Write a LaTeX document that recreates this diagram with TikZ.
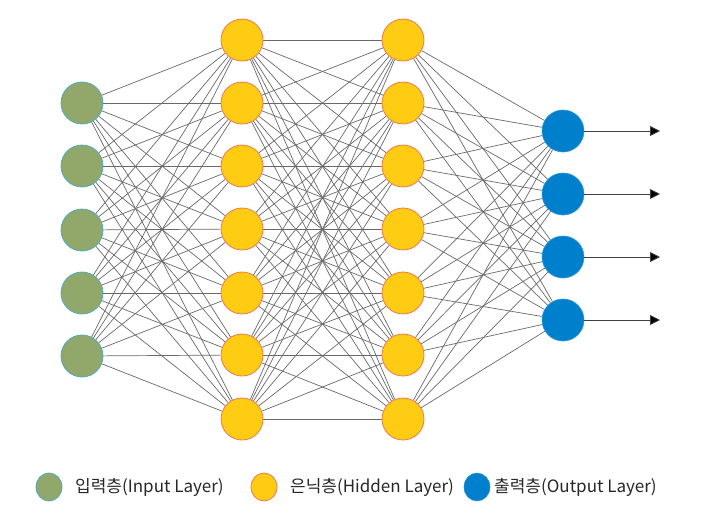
\documentclass[tikz,border=0pt]{standalone}
\usepackage{fontspec}
\setmainfont{Noto Sans CJK KR}
\usetikzlibrary{backgrounds,arrows.meta,shapes.geometric}
\definecolor{ingreen}{RGB}{146,168,106}
\definecolor{inborder}{RGB}{80,170,190}
\definecolor{hidyellow}{RGB}{255,204,20}
\definecolor{hidborder}{RGB}{240,120,80}
\definecolor{outblue}{RGB}{0,128,204}
\definecolor{outborder}{RGB}{40,150,215}
\definecolor{edgegray}{RGB}{105,105,105}
\tikzset{
  innode/.style={circle,minimum size=42pt,inner sep=0pt,fill=ingreen,draw=inborder,line width=0.8pt},
  hidnode/.style={circle,minimum size=42pt,inner sep=0pt,fill=hidyellow,draw=hidborder,line width=0.8pt},
  outnode/.style={circle,minimum size=42pt,inner sep=0pt,fill=outblue,draw=outborder,line width=0.6pt},
  edge/.style={draw=edgegray,line width=0.7pt},
  outarrow/.style={draw=black!75,line width=0.8pt,-{Triangle[length=10pt,width=10pt,fill=black]}},
  legin/.style={ellipse,minimum width=26pt,minimum height=28pt,inner sep=0pt,fill=ingreen,draw=inborder,line width=0.8pt},
  leghid/.style={ellipse,minimum width=26pt,minimum height=28pt,inner sep=0pt,fill=hidyellow,draw=hidborder,line width=0.8pt},
  legout/.style={ellipse,minimum width=26pt,minimum height=28pt,inner sep=0pt,fill=outblue,draw=outborder,line width=0.6pt},
  legtext/.style={anchor=west,inner sep=0pt,font=\fontsize{17}{19}\selectfont,text=black!85}
}
\begin{document}
\begin{tikzpicture}[x=1pt,y=-1pt]
\useasboundingbox (0,0) rectangle (702,523);
% input layer
\foreach \i/\y in {1/103,2/166,3/230,4/293,5/356}
  \node[innode] (i\i) at (82,\y) {};
% hidden layers
\foreach \i/\y in {1/40,2/103,3/166,4/229,5/293,6/355,7/419}{
  \node[hidnode] (a\i) at (242,\y) {};
  \node[hidnode] (b\i) at (403,\y) {};
}
% output layer
\foreach \i/\y in {1/131,2/194,3/257,4/320}{
  \node[outnode] (o\i) at (563,\y) {};
  \coordinate (t\i) at (660,\y);
}
\begin{pgfonlayer}{background}
\foreach \i in {1,...,5}
  \foreach \j in {1,...,7}
    \draw[edge] (i\i) -- (a\j);
\foreach \i in {1,...,7}
  \foreach \j in {1,...,7}
    \draw[edge] (a\i) -- (b\j);
\foreach \i in {1,...,7}
  \foreach \j in {1,...,4}
    \draw[edge] (b\i) -- (o\j);
\end{pgfonlayer}
\foreach \i in {1,...,4}
  \draw[outarrow] (o\i) -- (t\i);
% legend
\node[legin] (l1) at (49,487) {};
\node[legtext] (lt1) at (75,487) {입력층(Input Layer)};
\node[leghid] (l2) at (264,487) {};
\node[legtext] (lt2) at (290,487) {은닉층(Hidden Layer)};
\node[legout] (l3) at (477,487) {};
\node[legtext] (lt3) at (494,487) {출력층(Output Layer)};
\end{tikzpicture}
\end{document}
